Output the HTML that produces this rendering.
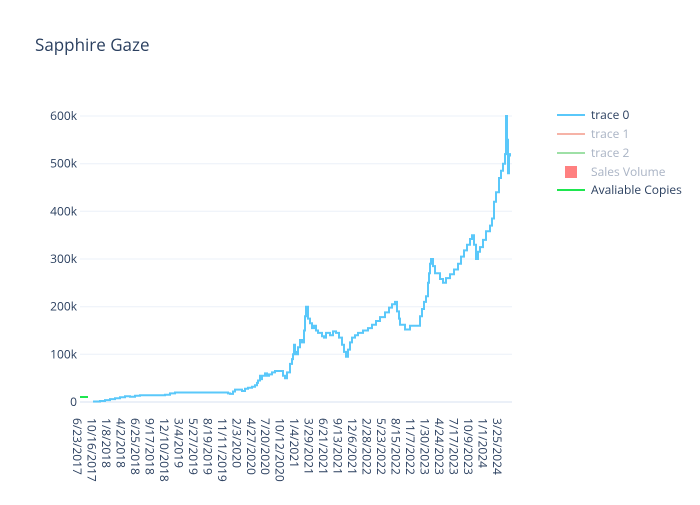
<!DOCTYPE html>
<html><head><meta charset="utf-8"><style>
body{margin:0;background:#fff}
svg text{font-family:"Open Sans","Liberation Sans",sans-serif;fill:#2a3f5f}
</style></head><body>
<svg id="s" width="700" height="500" xmlns="http://www.w3.org/2000/svg">
<rect width="700" height="500" fill="#fff"/>
<text x="35" y="51" font-size="17">Sapphire Gaze</text>
<g stroke="#ebf0f8" stroke-width="1">
<line x1="80" x2="512" y1="354.3" y2="354.3"/>
<line x1="80" x2="512" y1="306.7" y2="306.7"/>
<line x1="80" x2="512" y1="259" y2="259"/>
<line x1="80" x2="512" y1="211.3" y2="211.3"/>
<line x1="80" x2="512" y1="163.7" y2="163.7"/>
<line x1="80" x2="512" y1="116" y2="116"/>
</g>
<line x1="80" x2="512" y1="402" y2="402" stroke="#ebf0f8" stroke-width="2"/>
<g font-size="12" text-anchor="end">
<text x="77" y="406">0</text>
<text x="77" y="358.3">100k</text>
<text x="77" y="310.7">200k</text>
<text x="77" y="263">300k</text>
<text x="77" y="215.3">400k</text>
<text x="77" y="167.7">500k</text>
<text x="77" y="120">600k</text>
</g>
<g id="xl" font-size="12"></g>
<polyline points="80,397 88,397" stroke="#1ee64f" stroke-width="2" fill="none"/>
<path id="p" fill="none" stroke="#5ac8fa" stroke-width="2"/>
<g font-size="12">
<line x1="557" x2="585" y1="115" y2="115" stroke="#5ac8fa" stroke-width="2"/>
<text x="591" y="119">trace 0</text>
<line x1="557" x2="585" y1="134" y2="134" stroke="#f6b3a7" stroke-width="2"/>
<text x="591" y="138" style="fill:#a9b3c4">trace 1</text>
<line x1="557" x2="585" y1="153" y2="153" stroke="#9ee0a6" stroke-width="2"/>
<text x="591" y="157" style="fill:#a9b3c4">trace 2</text>
<rect x="565" y="166" width="12" height="12" fill="#ff8080"/>
<text x="591" y="176" style="fill:#a9b3c4">Sales Volume</text>
<line x1="557" x2="585" y1="190" y2="190" stroke="#1ee64f" stroke-width="2"/>
<text x="591" y="194">Avaliable Copies</text>
</g>
</svg>
<script>
var labs="6/23/2017 10/16/2017 1/8/2018 4/2/2018 6/25/2018 9/17/2018 12/10/2018 3/4/2019 5/27/2019 8/19/2019 11/11/2019 2/3/2020 4/27/2020 7/20/2020 10/12/2020 1/4/2021 3/29/2021 6/21/2021 9/13/2021 12/6/2021 2/28/2022 5/23/2022 8/15/2022 11/7/2022 1/30/2023 4/24/2023 7/17/2023 10/9/2023 1/1/2024 3/25/2024".split(" ");
var g=document.getElementById("xl"),h="";
labs.forEach(function(l,i){var x=77+i*14.48;h+='<text transform="translate('+(x-4)+',418) rotate(90)">'+l+'</text>';});
g.innerHTML=h;
var d=[[93,1],[100,2],[105,4],[110,6],[115,8],[120,10],[125,12],[130,11],[135,13],[140,14],[150,14],[160,14],[165,15],[170,18],[175,20],[190,20],[210,20],[225,20],[228,18],[230,17],[233,22],[235,26],[240,26],[242,23],[245,28],[248,30],[252,32],[255,35],[257,40],[258,45],[260,55],[261,48],[262,55],[265,60],[267,55],[269,58],[272,62],[275,65],[282,65],[283,55],[285,50],[287,62],[290,80],[292,90],[293,100],[294,120],[295,105],[296,100],[298,115],[300,130],[302,125],[304,150],[305,180],[306,200],[308,175],[310,165],[312,155],[314,160],[316,150],[318,145],[322,138],[324,135],[326,145],[330,140],[333,148],[336,145],[339,135],[342,120],[344,105],[346,95],[348,110],[350,125],[352,135],[355,140],[358,145],[363,150],[368,155],[372,162],[376,170],[380,178],[385,188],[389,198],[392,205],[395,210],[397,190],[399,175],[400,162],[405,152],[410,160],[418,160],[420,180],[422,195],[424,210],[426,222],[428,250],[429,270],[430,290],[431,300],[433,285],[435,270],[440,258],[443,250],[446,260],[450,268],[454,278],[458,290],[461,305],[464,318],[467,330],[470,342],[472,350],[474,330],[476,300],[478,315],[480,325],[483,340],[486,358],[490,370],[492,385],[494,420],[496,440],[499,470],[501,485],[503,500],[505,520],[506,600],[507,550],[508,480],[509,520],[510,515]];
var s="";d.forEach(function(p,i){var y=(402-p[1]*0.4767).toFixed(1);if(i==0)s="M"+p[0]+","+y;else s+=" H"+p[0]+" V"+y;});
document.getElementById("p").setAttribute("d",s);
</script>
</body></html>
